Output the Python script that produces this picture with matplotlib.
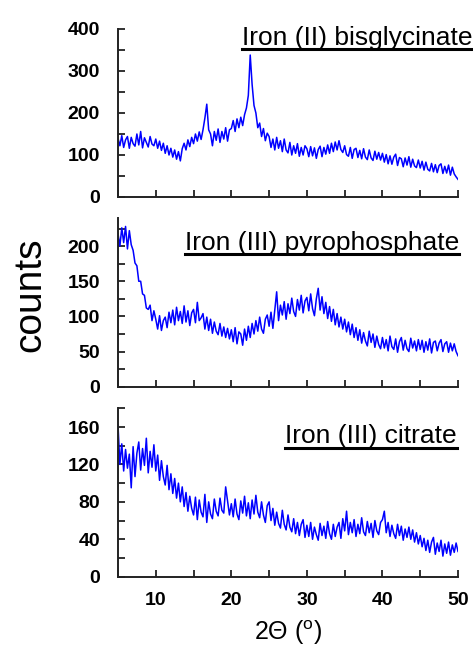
import numpy as np
import matplotlib
matplotlib.use('Agg')
from matplotlib import pyplot as plt
from matplotlib.lines import Line2D

plt.rcParams['font.family'] = ['Liberation Sans', 'DejaVu Sans']
plt.rcParams['mathtext.fontset'] = 'custom'
plt.rcParams['mathtext.rm'] = 'Liberation Sans'

# 2theta grid, 0.25 deg steps from 5 to 50
two_theta = np.linspace(5, 50, 181)

# Iron (II) bisglycinate
bisglycinate = [
    140, 122, 146, 118, 136, 144, 116, 142, 127, 121, 150, 124, 156, 117, 141, 130, 119, 144, 126, 122,
    138, 116, 133, 111, 128, 104, 122, 100, 116, 95, 112, 90, 108, 86, 115, 128, 112, 136, 120, 142,
    127, 150, 133, 155, 137, 160, 188, 221, 160, 150, 122, 156, 135, 162, 130, 156, 138, 165, 133, 160,
    163, 182, 156, 186, 165, 190, 170, 196, 212, 242, 338, 268, 218, 200, 165, 176, 144, 163, 134, 152,
    144, 118, 138, 112, 142, 116, 134, 108, 138, 112, 105, 130, 100, 122, 104, 127, 97, 118, 100, 122,
    115, 96, 120, 98, 117, 92, 113, 121, 96, 118, 102, 124, 104, 128, 108, 131, 112, 134, 113, 106,
    122, 101, 97, 118, 92, 113, 116, 94, 111, 91, 115, 95, 89, 112, 93, 87, 109, 90, 106, 88,
    104, 83, 101, 79, 98, 78, 95, 102, 75, 94, 91, 72, 93, 76, 96, 71, 90, 74, 70, 88,
    69, 85, 64, 83, 66, 62, 80, 60, 77, 58, 75, 79, 56, 73, 57, 76, 52, 71, 55, 48, 42]

# Iron (III) pyrophosphate
pyrophosphate = [
    218, 200, 226, 205, 228, 196, 222, 202, 194, 176, 172, 150, 150, 132, 130, 112, 110, 116, 94, 108,
    96, 82, 101, 80, 94, 99, 84, 106, 91, 109, 88, 113, 94, 107, 90, 115, 92, 108, 87, 105,
    110, 91, 120, 94, 98, 104, 82, 99, 80, 96, 76, 92, 79, 74, 90, 72, 85, 70, 83, 68,
    81, 64, 84, 61, 78, 75, 59, 82, 66, 86, 70, 90, 75, 94, 79, 99, 82, 76, 96, 102,
    86, 106, 83, 109, 135, 94, 116, 102, 121, 96, 118, 104, 126, 107, 100, 124, 109, 130, 105, 122,
    127, 108, 132, 111, 101, 125, 140, 109, 128, 104, 120, 97, 114, 93, 110, 88, 104, 85, 99, 82,
    96, 78, 92, 74, 89, 70, 84, 66, 81, 62, 77, 65, 58, 79, 63, 75, 56, 72, 60, 54,
    70, 55, 67, 51, 72, 57, 53, 68, 49, 64, 70, 52, 66, 54, 50, 69, 55, 65, 51, 67,
    53, 66, 49, 64, 52, 68, 48, 63, 65, 51, 62, 67, 50, 61, 64, 49, 62, 51, 61, 50, 44]

# Iron (III) citrate
citrate = [
    162, 120, 142, 113, 136, 116, 131, 95, 139, 107, 132, 144, 114, 137, 119, 148, 111, 134, 117, 141,
    113, 130, 103, 124, 107, 98, 119, 93, 110, 89, 105, 84, 100, 80, 96, 75, 90, 70, 86, 73,
    66, 85, 61, 82, 69, 64, 88, 58, 80, 67, 62, 83, 70, 65, 84, 71, 68, 96, 81, 66,
    78, 64, 83, 67, 61, 81, 68, 86, 65, 79, 62, 82, 67, 87, 69, 63, 80, 66, 58, 76,
    80, 60, 73, 55, 69, 57, 52, 71, 56, 50, 66, 53, 48, 62, 46, 58, 44, 56, 61, 42,
    55, 43, 58, 40, 53, 45, 39, 57, 44, 54, 41, 59, 46, 40, 56, 43, 53, 58, 41, 62,
    49, 70, 45, 58, 47, 61, 43, 56, 46, 63, 48, 44, 59, 47, 57, 42, 60, 49, 45, 58,
    61, 70, 47, 58, 43, 55, 46, 41, 56, 44, 54, 39, 51, 42, 53, 40, 50, 37, 47, 35,
    44, 32, 41, 28, 39, 26, 37, 42, 24, 36, 27, 39, 22, 35, 25, 37, 23, 34, 26, 36, 27]

titles = ['Iron (II) bisglycinate', 'Iron (III) pyrophosphate', 'Iron (III) citrate']
series = [bisglycinate, pyrophosphate, citrate]
y_max = [400, 240, 180]
y_label_step = [100, 50, 40]
y_tick_step = [50, 25, 20]

W, H = 473, 652
fig = plt.figure(figsize=(W / 100, H / 100), dpi=100)

# axes boxes in pixels: (top, bottom)
boxes = [(29, 197), (218, 386.7), (408.3, 576.7)]
left_px, right_px = 118, 458
# title placement in pixels: (right edge, baseline)
title_pos = [(472, 45), (459, 250), (457, 443.5)]

axes = []
for i in range(3):
    top, bot = boxes[i]
    ax = fig.add_axes([left_px / W, 1 - bot / H, (right_px - left_px) / W, (bot - top) / H])
    ax.plot(two_theta, series[i], color='#0000ff', lw=1.1)
    ax.set_xlim(5, 50)
    ax.set_ylim(0, y_max[i])
    ax.spines['top'].set_visible(False)
    ax.spines['right'].set_visible(False)
    for s in ['left', 'bottom']:
        ax.spines[s].set_linewidth(1.4)
        ax.spines[s].set_color('#222222')
    ax.set_xticks(np.arange(10, 51, 10))
    ax.set_xticks(np.arange(5, 51, 5), minor=True)
    ax.set_yticks(np.arange(0, y_max[i] + 1, y_label_step[i]))
    ax.set_yticks(np.arange(0, y_max[i] + 1, y_tick_step[i]), minor=True)
    ax.tick_params(which='both', direction='in', length=5, width=1.3, color='#222222')
    ax.tick_params(axis='y', pad=13, labelsize=14)
    ax.tick_params(axis='x', pad=11, labelsize=14)
    for lab in ax.get_xticklabels() + ax.get_yticklabels():
        lab.set_fontweight('bold')
    if i < 2:
        ax.tick_params(axis='x', labelbottom=False)
    axes.append(ax)

# titles with underline
title_texts = []
for i in range(3):
    rx, by = title_pos[i]
    t = fig.text(rx / W, 1 - by / H, titles[i], ha='right', va='baseline', fontsize=19)
    title_texts.append(t)

fig.text(30 / W, 1 - 295 / H, 'counts', rotation=90, ha='center', va='center', fontsize=28)
fig.text(288 / W, 1 - 633 / H, '2\u0398 ($^{\\mathregular{o}}$)', ha='center', va='center', fontsize=18)

fig.canvas.draw()
renderer = fig.canvas.get_renderer()
for i, t in enumerate(title_texts):
    bb = t.get_window_extent(renderer)
    uy = title_pos[i][1] + 4
    line = Line2D([bb.x0 / W, bb.x1 / W], [1 - uy / H, 1 - uy / H],
                  transform=fig.transFigure, color='black', lw=2.2)
    fig.add_artist(line)

plt.savefig('out.png', dpi=100)
